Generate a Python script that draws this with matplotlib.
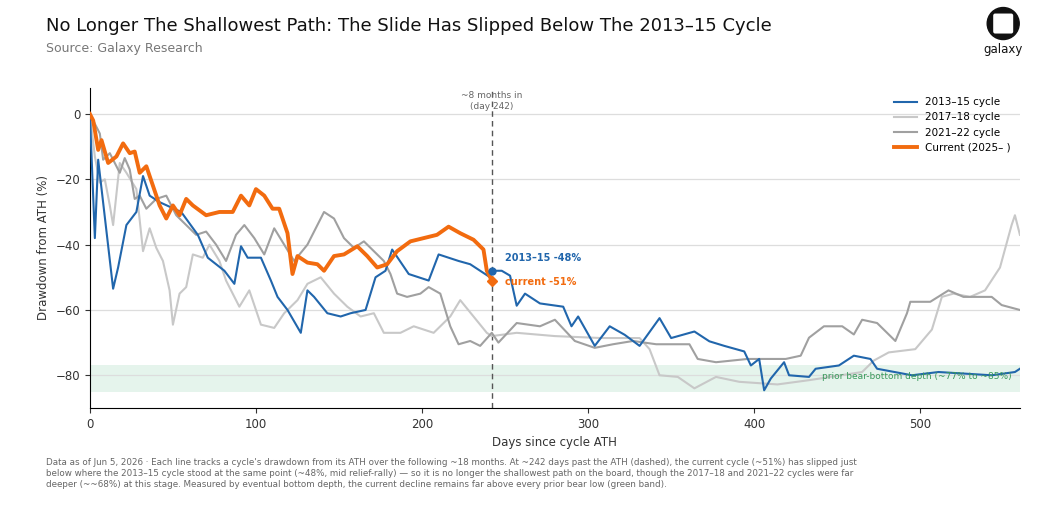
import matplotlib
matplotlib.use("Agg")
import matplotlib.pyplot as plt
import numpy as np
from matplotlib.patches import Circle, FancyBboxPatch

c13_days = [0,3,5,14,17,22,28,32,36,42,55,65,71,81,87,91,95,103,109,113,119,127,131,135,143,151,157,166,172,178,182,188,192,204,210,222,229,241,242,
            248,253,257,262,271,285,290,294,304,313,322,331,343,350,364,373,382,394,398,403,406,410,418,421,433,437,451,460,470,474,495,511,543,557,560]
c13_vals = [0,-38,-14,-53.5,-47,-34,-30,-19,-25,-27,-30,-37,-44,-48,-52,-40.5,-44,-44,-51,-56,-60,-67,-54,-56,-61,-62,-61,-60,-50,-48,-41.5,-46,-49,-51,-43,-45,-46,-50,-48,
            -48,-49.5,-58.7,-55,-58,-59,-65,-62,-71,-65,-67.6,-71,-62.5,-68.6,-66.6,-69.6,-71,-72.7,-77,-75,-84.6,-81,-76,-80,-80.5,-78,-77,-74,-75,-78,-80,-79,-80,-79,-78]

c17_days = [0,3,6,9,12,14,18,22,28,32,36,40,44,48,50,54,58,62,68,72,78,82,90,96,103,111,117,125,131,139,147,155,163,171,177,187,195,207,217,223,231,239,242,
            257,280,308,331,337,343,354,364,377,391,414,433,465,472,481,497,507,513,520,530,539,548,555,557,560]
c17_vals = [0,-13,-21,-20,-28,-34,-15,-18,-23,-42,-35,-41,-45,-54,-64.5,-55,-53,-43,-44,-40,-45,-51,-59,-54,-64.5,-65.5,-61,-57,-52,-50,-55,-59,-62,-61,-67,-67,-65,-67,-62,-57,-62,-67,-68,
            -67,-68,-68.6,-68.6,-72,-80,-80.5,-84,-80.5,-82,-82.8,-81.5,-79,-75.5,-73,-72,-66,-56,-55,-56,-54,-47,-34,-31,-37]

c21_days = [0,4,6,8,12,18,21,24,27,30,34,40,46,52,58,64,70,76,82,88,93,99,105,111,117,123,131,137,141,147,153,159,165,171,177,181,185,191,199,204,211,217,222,229,235,242,
            246,257,271,280,292,304,315,327,341,361,366,377,396,419,428,433,442,453,460,465,474,485,492,494,506,517,526,543,549,560]
c21_vals = [0,-4,-6,-14,-12,-18,-13.5,-17,-26,-25,-29,-26,-25,-31,-34,-37,-36,-40,-45,-37,-34,-38,-43,-35,-40,-45,-40,-34,-30,-32,-38,-41,-39,-42,-45,-49,-55,-56,-55,-53,-55,-65,-70.5,-69.5,-71,-67,
            -70,-64,-65,-63,-69.5,-71.6,-70.5,-69.5,-70.5,-70.5,-75,-76,-75,-75,-74,-68.5,-65,-65,-67.5,-63,-64,-69.5,-61,-57.5,-57.5,-54,-56,-56,-58.5,-60]

cur_days = [0,2,5,7,11,16,20,24,27,30,34,38,42,46,50,54,58,62,70,78,86,91,96,100,105,110,114,119,122,125,131,137,141,147,153,161,167,173,179,185,193,201,209,216,223,231,237,239,242]
cur_vals = [0,-2,-11,-8,-15,-13,-9,-12,-11.5,-18,-16,-22,-28,-32,-28,-31,-26,-28,-31,-30,-30,-25,-28,-23,-25,-29,-29,-36.5,-49,-43.5,-45.5,-46,-48,-43.5,-43,-40.5,-43.5,-47,-46,-42,-39,-38,-37,-34.5,-36.5,-38.5,-41.5,-48,-51]

fig = plt.figure(figsize=(10.45, 5.23), dpi=100)
ax = fig.add_axes([0.086, 0.22, 0.89, 0.612])

ax.axhspan(-85, -77, color="#d5eee0", alpha=0.6, lw=0, zorder=0)
for y in [0, -20, -40, -60, -80]:
    ax.axhline(y, color="#dddddd", lw=0.9, zorder=0)

ax.plot(c13_days, c13_vals, color="#2166ac", lw=1.5, label="2013–15 cycle", zorder=3)
ax.plot(c17_days, c17_vals, color="#c8c8c8", lw=1.5, label="2017–18 cycle", zorder=2)
ax.plot(c21_days, c21_vals, color="#a0a0a0", lw=1.5, label="2021–22 cycle", zorder=2)
ax.plot(cur_days, cur_vals, color="#f26b0f", lw=2.8, label="Current (2025– )", zorder=4)

ax.axvline(242, color="#555555", lw=1, ls=(0, (4, 3)), zorder=1)
ax.text(242, 4, "~8 months in\n(day 242)", ha="center", va="center", fontsize=6.5, color="#666666")
ax.plot([242], [-48], "o", color="#2166ac", ms=5, zorder=5)
ax.plot([242], [-51], "D", color="#f26b0f", ms=5, zorder=5)
ax.text(250, -44, "2013–15 -48%", color="#2166ac", fontsize=7, fontweight="bold", va="center")
ax.text(250, -51.5, "current -51%", color="#f26b0f", fontsize=7, fontweight="bold", va="center")
ax.text(555, -80.5, "prior bear-bottom depth (~77% to ~85%)", color="#3a9a5c", fontsize=6.5, ha="right", va="center")

ax.set_xlim(0, 560)
ax.set_ylim(-90, 8)
ax.set_xticks([0, 100, 200, 300, 400, 500])
ax.set_yticks([0, -20, -40, -60, -80])
ax.tick_params(labelsize=8.5, colors="#333333")
for s in ["top", "right"]:
    ax.spines[s].set_visible(False)
ax.set_xlabel("Days since cycle ATH", fontsize=8.5, color="#333333")
ax.set_ylabel("Drawdown from ATH (%)", fontsize=8.5, color="#333333")
leg = ax.legend(loc="upper right", frameon=False, fontsize=7.5, handlelength=2.2)

fig.text(0.044, 0.95, "No Longer The Shallowest Path: The Slide Has Slipped Below The 2013–15 Cycle",
         fontsize=13, color="#111111", va="center")
fig.text(0.044, 0.907, "Source: Galaxy Research", fontsize=9, color="#777777", va="center")
fig.text(0.044, 0.095,
         "Data as of Jun 5, 2026 · Each line tracks a cycle's drawdown from its ATH over the following ~18 months. At ~242 days past the ATH (dashed), the current cycle (~51%) has slipped just\n"
         "below where the 2013–15 cycle stood at the same point (~48%, mid relief-rally) — so it is no longer the shallowest path on the board, though the 2017–18 and 2021–22 cycles were far\n"
         "deeper (~~68%) at this stage. Measured by eventual bottom depth, the current decline remains far above every prior bear low (green band).",
         fontsize=6.3, color="#666666", va="center", linespacing=1.3)

# logo
fig.patches.append(Circle((0.960, 0.955), 0.030, transform=fig.transFigure, color="#111111",
                          ))
fig.patches[-1].set_transform(fig.dpi_scale_trans)
fig.patches[-1].center = (0.960 * 10.45, 0.955 * 5.23)
fig.patches[-1].set_radius(0.16)
sq = FancyBboxPatch((0.960 * 10.45 - 0.1, 0.955 * 5.23 - 0.1), 0.2, 0.2,
                    boxstyle="round,pad=0,rounding_size=0.02", transform=fig.dpi_scale_trans,
                    facecolor="white", edgecolor="none")
fig.patches.append(sq)
fig.text(0.960, 0.905, "galaxy", ha="center", va="center", fontsize=8.5, color="#111111")

fig.savefig("out.png", dpi=100, facecolor="white")
